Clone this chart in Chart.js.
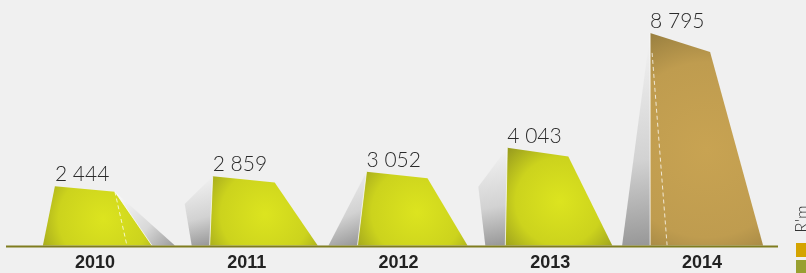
<!DOCTYPE html>
<html>
<head>
<meta charset="utf-8">
<script src="https://cdn.jsdelivr.net/npm/chart.js@4.4.0/dist/chart.umd.min.js"></script>
<style>
  html, body { margin: 0; padding: 0; background: #f0f0f0; }
  #wrap { width: 806px; height: 273px; position: relative; }
</style>
</head>
<body>
<div id="wrap"><canvas id="revChart"></canvas></div>
<script>
// data
var years = ['2010', '2011', '2012', '2013', '2014'];
var revenue = [2444, 2859, 3052, 4043, 8795];
var unitLabel = "R'm";
var legendColors = ['#d4a400', '#98a030'];

// shape styles for each bar, offsets in px from the category centre
var shapes = [
  { tl: -40, tr: 20, bl: -52, br: 57, side: 'right', sideX: 80, dash: 32 },
  { tl: -34, tr: 28, bl: -37, br: 71, side: 'left', sideX: -55, sideTopX: -62, sideTopF: 0.6 },
  { tl: -32, tr: 29, bl: -41, br: 69, side: 'left', sideX: -70 },
  { tl: -43, tr: 18, bl: -45, br: 62, side: 'left', sideX: -65, sideTopX: -72, sideTopF: 0.6 },
  { tl: -52, tr: 8, bl: -52, br: 61, side: 'left', sideX: -80, dash: -35, tan: true }
];

function fmt(v) {
  return String(v).replace(/\B(?=(\d{3})+(?!\d))/g, ' ');
}

function poly(ctx, pts) {
  ctx.beginPath();
  ctx.moveTo(pts[0][0], pts[0][1]);
  for (var i = 1; i < pts.length; i++) ctx.lineTo(pts[i][0], pts[i][1]);
  ctx.closePath();
}

var shapePlugin = {
  id: 'shapes',
  beforeDatasetsDraw: function(chart) {
    var ctx = chart.ctx;
    var area = chart.chartArea;
    var meta = chart.getDatasetMeta(0);
    var base = chart.scales.y.getPixelForValue(0);

    meta.data.forEach(function(bar, i) {
      var s = shapes[i];
      var c = bar.x, top = bar.y;
      var h = base - top;
      var drop = h * 0.09;
      var TL = [c + s.tl, top], TR = [c + s.tr, top + drop];
      var BR = [c + s.br, base], BL = [c + s.bl, base];

      ctx.save();
      // grey side face
      var g;
      if (s.side === 'right') {
        g = ctx.createLinearGradient(TR[0], TR[1], c + s.sideX, base);
        g.addColorStop(0, '#fbfbfb');
        g.addColorStop(0.6, '#d8d8d8');
        g.addColorStop(1, '#9c9c9c');
        ctx.fillStyle = g;
        poly(ctx, [TR, [c + s.sideX, base], BR]);
        ctx.fill();
      } else {
        var pts = [[c + s.sideX, base]];
        if (s.sideTopX !== undefined) pts.push([c + s.sideTopX, base - h * s.sideTopF]);
        pts.push(TL, BL);
        g = ctx.createLinearGradient(c + s.sideX, top, BL[0], base);
        g.addColorStop(0, '#f4f4f4');
        g.addColorStop(0.6, '#d2d2d2');
        g.addColorStop(1, '#979797');
        ctx.fillStyle = g;
        poly(ctx, pts);
        ctx.fill();
      }

      // front face
      var cx = (TL[0] + BR[0]) / 2, cy = top + h * 0.55;
      var r = Math.max(BR[0] - BL[0], h) * 0.75;
      var rg = ctx.createRadialGradient(cx, cy, 0, cx, cy, r);
      if (s.tan) {
        rg.addColorStop(0, '#c8a352');
        rg.addColorStop(0.55, '#bf9c4f');
        rg.addColorStop(1, '#7d6a34');
      } else {
        rg.addColorStop(0, '#dce41f');
        rg.addColorStop(0.55, '#ccd31d');
        rg.addColorStop(1, '#8c8f1e');
      }
      ctx.fillStyle = rg;
      poly(ctx, [TL, TR, BR, BL]);
      ctx.fill();

      // light edge where side meets front
      ctx.strokeStyle = 'rgba(255,255,255,0.7)';
      ctx.lineWidth = 1;
      ctx.beginPath();
      if (s.side === 'right') { ctx.moveTo(TR[0], TR[1]); ctx.lineTo(BR[0], BR[1]); }
      else { ctx.moveTo(TL[0], TL[1]); ctx.lineTo(BL[0], BL[1]); }
      ctx.stroke();

      // dashed highlight
      if (s.dash !== undefined) {
        var from = s.side === 'right' ? TR : [TL[0] + 2, TL[1] + 20];
        ctx.setLineDash([4, 3]);
        ctx.strokeStyle = 'rgba(255,255,255,0.75)';
        ctx.beginPath();
        ctx.moveTo(from[0], from[1]);
        ctx.lineTo(c + s.dash, base);
        ctx.stroke();
        ctx.setLineDash([]);
      }

      // value label
      ctx.fillStyle = '#2b2b2b';
      ctx.font = '300 21px Lato';
      ctx.textAlign = 'left';
      ctx.textBaseline = 'alphabetic';
      ctx.fillText(fmt(revenue[i]), TL[0], top - 5);
      ctx.restore();
    });

    // base line
    ctx.save();
    ctx.strokeStyle = '#7f7c1f';
    ctx.lineWidth = 2;
    ctx.beginPath();
    ctx.moveTo(6, base + 1);
    ctx.lineTo(area.right, base + 1);
    ctx.stroke();

    // unit legend on the right edge
    ctx.fillStyle = legendColors[0];
    ctx.fillRect(796, 243, 14, 14);
    ctx.fillStyle = legendColors[1];
    ctx.fillRect(796, 260, 14, 14);
    ctx.translate(808, 219);
    ctx.rotate(-Math.PI / 2);
    ctx.fillStyle = '#333';
    ctx.font = '300 17px Lato';
    ctx.textAlign = 'center';
    ctx.fillText(unitLabel, 0, 0);
    ctx.restore();
  }
};

new Chart(document.getElementById('revChart'), {
  type: 'bar',
  data: {
    labels: years,
    datasets: [{
      label: unitLabel,
      data: revenue,
      backgroundColor: 'rgba(0,0,0,0)'
    }]
  },
  options: {
    responsive: true,
    maintainAspectRatio: false,
    animation: false,
    layout: { padding: { left: 19, right: 28, top: 28, bottom: -8 } },
    plugins: {
      legend: { display: false },
      tooltip: { enabled: false }
    },
    scales: {
      x: {
        grid: { display: false, drawTicks: false },
        border: { display: false },
        ticks: {
          color: '#222',
          padding: 7,
          font: { family: 'Liberation Sans', weight: 'bold', size: 18 }
        }
      },
      y: {
        display: false,
        min: 0,
        max: 9000
      }
    }
  },
  plugins: [shapePlugin]
});
</script>
</body>
</html>
